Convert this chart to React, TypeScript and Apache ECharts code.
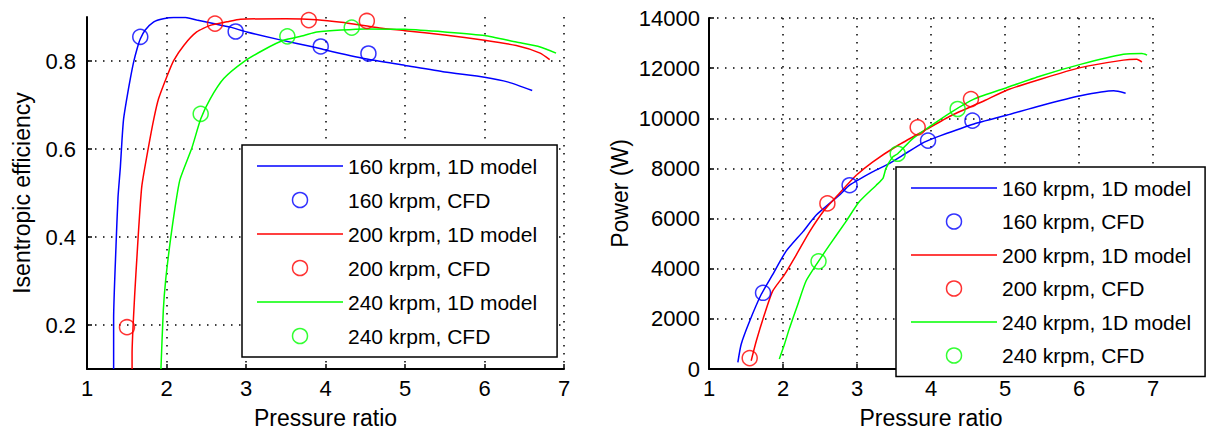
import React, { useEffect, useRef } from 'react';
import * as echarts from 'echarts';

const seriesNames = [
  '160 krpm, 1D model',
  '160 krpm, CFD',
  '200 krpm, 1D model',
  '200 krpm, CFD',
  '240 krpm, 1D model',
  '240 krpm, CFD',
];
const speedColors = ['#0000ff', '#ff0000', '#00ff00'];

const xTicks = [1, 2, 3, 4, 5, 6, 7];
const effTicks = [0.2, 0.4, 0.6, 0.8];
const powerTicks = [0, 2000, 4000, 6000, 8000, 10000, 12000, 14000];

// Left chart: isentropic efficiency vs pressure ratio
const eff160Model = [
  [1.335, 0.1], [1.335, 0.215], [1.365, 0.38], [1.39, 0.49], [1.42, 0.56], [1.44, 0.62],
  [1.46, 0.668], [1.5, 0.714], [1.545, 0.76], [1.587, 0.798], [1.63, 0.828], [1.67, 0.85],
  [1.73, 0.87], [1.84, 0.889], [1.96, 0.896], [2.09, 0.899], [2.24, 0.899], [2.38, 0.893],
  [2.59, 0.885], [2.8, 0.877], [3.01, 0.866], [3.43, 0.848], [3.85, 0.832], [4.0, 0.825],
  [4.5, 0.805], [5.0, 0.79], [5.5, 0.775], [6.0, 0.763], [6.3, 0.752], [6.6, 0.733],
];
const eff160Cfd = [[1.67, 0.855], [2.87, 0.867], [3.94, 0.833], [4.54, 0.817]];

const eff200Model = [
  [1.567, 0.1], [1.567, 0.135], [1.6, 0.269], [1.63, 0.36], [1.65, 0.419], [1.69, 0.516],
  [1.776, 0.607], [1.84, 0.668], [1.9, 0.714], [2.01, 0.767], [2.09, 0.801], [2.22, 0.836],
  [2.38, 0.866], [2.55, 0.881], [2.76, 0.889], [2.93, 0.895], [3.5, 0.896], [3.89, 0.894],
  [4.2, 0.888], [4.68, 0.875], [5.0, 0.869], [5.5, 0.859], [6.0, 0.847], [6.4, 0.835],
  [6.7, 0.818], [6.82, 0.803],
];
const eff200Cfd = [[1.503, 0.195], [2.61, 0.885], [3.79, 0.893], [4.52, 0.891]];

const eff240Model = [
  [1.93, 0.1], [1.96, 0.234], [1.99, 0.303], [2.05, 0.394], [2.11, 0.47], [2.17, 0.531],
  [2.32, 0.603], [2.43, 0.668], [2.55, 0.714], [2.72, 0.76], [2.97, 0.798], [3.22, 0.825],
  [3.47, 0.847], [3.73, 0.858], [3.89, 0.866], [4.5, 0.873], [5.0, 0.872], [5.5, 0.866],
  [6.0, 0.858], [6.4, 0.843], [6.7, 0.832], [6.9, 0.818],
];
const eff240Cfd = [[2.43, 0.68], [3.52, 0.856], [4.33, 0.876]];

// Right chart: power vs pressure ratio
const pow160Model = [
  [1.39, 265], [1.435, 990], [1.55, 1915], [1.705, 2970], [1.86, 3765], [2.04, 4690],
  [2.27, 5480], [2.45, 6140], [2.76, 6930], [2.9, 7330], [3.21, 7860], [3.435, 8190],
  [3.615, 8520], [3.91, 9050], [4.13, 9310], [4.58, 9775], [5.03, 10130], [5.48, 10500],
  [6.02, 10895], [6.47, 11095], [6.63, 11000],
];
const pow160Cfd = [[1.73, 3040], [2.9, 7330], [3.96, 9110], [4.56, 9905]];

const pow200Model = [
  [1.57, 330], [1.64, 1125], [1.75, 2180], [1.86, 3105], [2.02, 3765], [2.18, 4555],
  [2.36, 5480], [2.56, 6340], [2.76, 7000], [2.99, 7725], [3.21, 8255], [3.55, 8915],
  [3.91, 9510], [4.27, 10100], [4.72, 10700], [5.03, 11130], [5.48, 11560], [6.02, 12020],
  [6.6, 12320], [6.78, 12350], [6.85, 12245],
];
const pow200Cfd = [[1.55, 435], [2.6, 6605], [3.82, 9640], [4.54, 10765]];

const pow240Model = [
  [1.95, 400], [2.02, 990], [2.09, 1650], [2.2, 2575], [2.31, 3500], [2.45, 4160],
  [2.63, 4950], [2.85, 5880], [3.03, 6670], [3.26, 7330], [3.35, 7600], [3.39, 7990],
  [3.48, 8450], [3.55, 8585], [3.75, 9180], [4.0, 9705], [4.27, 10240], [4.58, 10765],
  [5.03, 11230], [5.48, 11690], [6.02, 12150], [6.6, 12550], [6.85, 12580], [6.92, 12520],
];
const pow240Cfd = [[2.48, 4295], [3.55, 8585], [4.36, 10370]];

const FONT = "'Liberation Sans', Arial, Helvetica, sans-serif";

export default function App() {
  const ref = useRef<HTMLDivElement>(null);

  useEffect(() => {
    const chart = echarts.init(ref.current!, null, { renderer: 'svg' });

    const textStyle = { color: '#000', fontSize: 21, fontFamily: FONT };
    const tickText = { ...textStyle, fontSize: 22 };
    const nameText = { ...textStyle, fontSize: 23 };
    const dotted = { color: '#000', type: [1.5, 6.5], width: 1.5 };
    const axisLine = { show: true, onZero: false, lineStyle: { color: '#000', width: 2 } };
    const axisTick = { show: true, inside: true, length: 5, lineStyle: { color: '#000', width: 1.5 } };

    const xAxisFor = (gridIndex: number) => ({
      gridIndex,
      type: 'value',
      min: 1,
      max: 7,
      interval: 1,
      axisLine,
      axisTick,
      axisLabel: { ...tickText, margin: 8, customValues: xTicks },
      splitLine: { show: true, lineStyle: dotted },
      name: 'Pressure ratio',
      nameLocation: 'middle',
      nameGap: 37,
      nameTextStyle: nameText,
    });

    const lineSeries = (name: string, color: string, data: number[][], idx: number) => ({
      name,
      type: 'line',
      xAxisIndex: idx,
      yAxisIndex: idx,
      data,
      symbol: 'none',
      showSymbol: false,
      smooth: 0.2,
      lineStyle: { color, width: 1.5 },
      itemStyle: { color },
      z: 2,
    });
    const scatterSeries = (name: string, color: string, data: number[][], idx: number) => ({
      name,
      type: 'scatter',
      xAxisIndex: idx,
      yAxisIndex: idx,
      data,
      symbol: 'circle',
      symbolSize: 15,
      itemStyle: { color: 'transparent', borderColor: color, borderWidth: 1.5 },
      z: 3,
    });

    const legendData = seriesNames.map((name, i) => {
      const color = speedColors[Math.floor(i / 2)];
      return i % 2 === 0
        ? { name, icon: 'path://M0,0h86v1.5h-86z', itemStyle: { color, borderWidth: 0 } }
        : { name, icon: 'circle', itemStyle: { color: 'transparent', borderColor: color, borderWidth: 1.5 } };
    });

    const legendFor = (left: number, top: number, padRight: number, gap: number) => ({
      orient: 'vertical',
      left,
      top,
      padding: [9, padRight, 9, 15],
      itemWidth: 86,
      itemHeight: 15,
      itemGap: gap,
      backgroundColor: '#fff',
      borderColor: '#000',
      borderWidth: 1.5,
      selectedMode: false,
      textStyle: { ...textStyle, lineHeight: 24 },
      data: legendData,
      z: 10,
    });

    chart.setOption({
      animation: false,
      backgroundColor: '#fff',
      grid: [
        { left: 87, right: 1207 - 564, top: 17, bottom: 434 - 373, containLabel: false },
        { left: 709, right: 1207 - 1153, top: 18, bottom: 434 - 372, containLabel: false },
      ],
      xAxis: [xAxisFor(0), xAxisFor(1)],
      yAxis: [
        {
          gridIndex: 0,
          type: 'value',
          min: 0.1,
          max: 0.9,
          interval: 0.1,
          axisLine,
          axisTick: { ...axisTick, customValues: effTicks },
          axisLabel: {
            ...tickText,
            margin: 11,
            customValues: effTicks,
            formatter: (v: number) => v.toFixed(1),
          },
          splitLine: { show: true, lineStyle: dotted },
          name: 'Isentropic efficiency',
          nameLocation: 'middle',
          nameGap: 54,
          nameTextStyle: nameText,
        },
        {
          gridIndex: 1,
          type: 'value',
          min: 0,
          max: 14000,
          interval: 2000,
          axisLine,
          axisTick,
          axisLabel: {
            ...tickText,
            margin: 9,
            customValues: powerTicks,
            formatter: (v: number) => String(v),
          },
          splitLine: { show: true, lineStyle: dotted },
          name: 'Power (W)',
          nameLocation: 'middle',
          nameGap: 78,
          nameTextStyle: nameText,
        },
      ],
      legend: [legendFor(242, 145, 20, 10), legendFor(896, 167, 14, 9.5)],
      series: [
        lineSeries(seriesNames[0], speedColors[0], eff160Model, 0),
        lineSeries(seriesNames[2], speedColors[1], eff200Model, 0),
        lineSeries(seriesNames[4], speedColors[2], eff240Model, 0),
        scatterSeries(seriesNames[1], speedColors[0], eff160Cfd, 0),
        scatterSeries(seriesNames[3], speedColors[1], eff200Cfd, 0),
        scatterSeries(seriesNames[5], speedColors[2], eff240Cfd, 0),
        lineSeries(seriesNames[0], speedColors[0], pow160Model, 1),
        lineSeries(seriesNames[2], speedColors[1], pow200Model, 1),
        lineSeries(seriesNames[4], speedColors[2], pow240Model, 1),
        scatterSeries(seriesNames[1], speedColors[0], pow160Cfd, 1),
        scatterSeries(seriesNames[3], speedColors[1], pow200Cfd, 1),
        scatterSeries(seriesNames[5], speedColors[2], pow240Cfd, 1),
      ],
    });

    return () => chart.dispose();
  }, []);

  return (
    <div
      ref={ref}
      style={{ position: 'absolute', left: 0, top: 0, width: 1207, height: 434, background: '#fff' }}
    />
  );
}
